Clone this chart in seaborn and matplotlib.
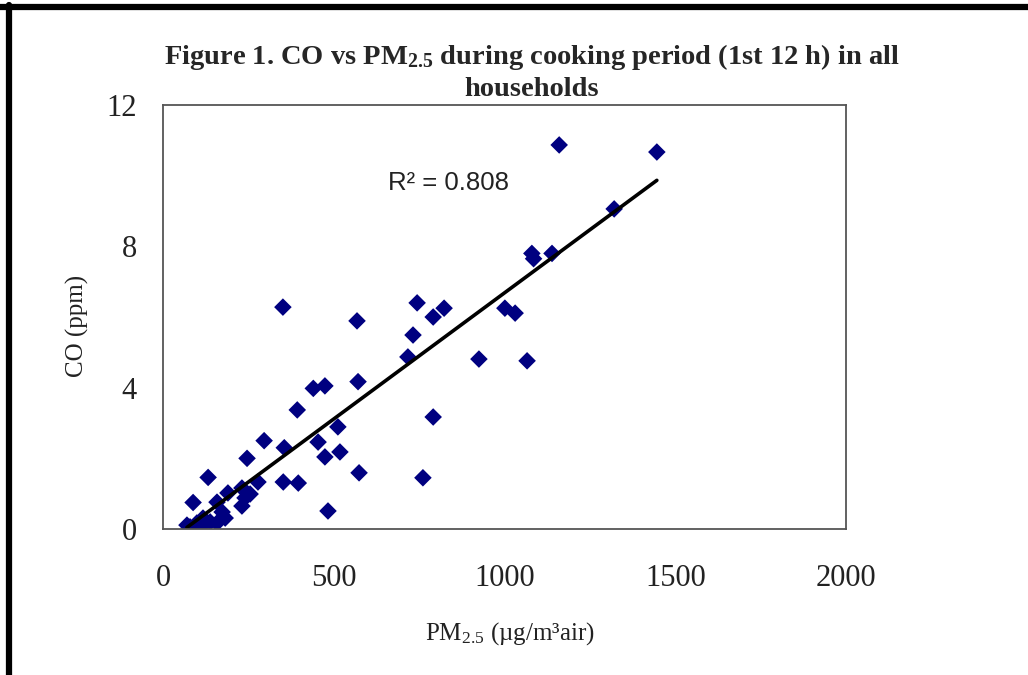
import matplotlib
matplotlib.use("Agg")
import matplotlib.pyplot as plt
import seaborn as sb
import pandas as pd
from matplotlib.lines import Line2D

# step 01: values
pm25 = [70, 79, 88, 99, 108, 117, 132, 138, 158, 158, 173, 182, 190,
        231, 231, 240, 246, 255, 278, 296, 355, 352, 396, 351, 393,
        440, 474, 454, 474, 512, 518, 483, 568, 571, 574, 761, 791,
        717, 732, 744, 791, 823, 925, 1001, 1031, 1066, 1080, 1085,
        1139, 1160, 1321, 1446]
co = [0.11, 0.06, 0.75, 0.17, 0.03, 0.31, 1.46, 0.20, 0.76, 0.17, 0.48, 0.31, 1.02,
      1.16, 0.65, 0.88, 2.00, 0.99, 1.33, 2.50, 2.30, 1.33, 1.30, 6.28, 3.37,
      3.98, 4.05, 2.46, 2.04, 2.89, 2.18, 0.51, 5.89, 4.17, 1.59, 1.45, 3.17,
      4.87, 5.49, 6.40, 6.00, 6.25, 4.81, 6.25, 6.11, 4.76, 7.80, 7.65,
      7.80, 10.87, 9.06, 10.67]
r2_text = "R² = 0.808"
x_ticks = [0, 500, 1000, 1500, 2000]
y_ticks = [0, 4, 8, 12]

df = pd.DataFrame({"PM25": pm25, "CO": co})

# step 02: style
sb.set_style("white")
plt.rcParams["font.family"] = ["Liberation Serif", "DejaVu Serif"]
plt.rcParams["mathtext.fontset"] = "custom"
plt.rcParams["mathtext.rm"] = "Liberation Serif"
plt.rcParams["mathtext.it"] = "Liberation Serif"
plt.rcParams["mathtext.bf"] = "Liberation Serif:bold"
plt.rcParams["mathtext.default"] = "rm"

fig = plt.figure(figsize=(10.28, 6.75), dpi=100)
ax = fig.add_axes([0.1586, 0.2163, 0.6644, 0.6281])

# step 03: scatter + linear trend line
sb.regplot(data=df, x="PM25", y="CO", ax=ax, ci=None, truncate=True,
           marker="D",
           scatter_kws={"s": 80, "color": "#000080", "edgecolor": "none", "alpha": 1},
           line_kws={"color": "black", "linewidth": 2.6})

ax.set_xlim(0, 2000)
ax.set_ylim(0, 12)
ax.set_xticks(x_ticks)
ax.set_yticks(y_ticks)
ax.tick_params(axis="both", direction="out", length=7, width=1.2,
               color="#555555", labelsize=22, labelcolor="#222222")
ax.tick_params(axis="x", pad=18)
ax.tick_params(axis="y", pad=12)
for side in ["left", "bottom", "top", "right"]:
    ax.spines[side].set_visible(True)
    ax.spines[side].set_color("#555555")
    ax.spines[side].set_linewidth(1.3)

ax.set_xlabel("")
ax.set_ylabel("")
fig.text(0.496, 0.062, "PM$_{2.5}$ (µg/m³air)", ha="center", va="center",
         fontsize=18, color="#222222")
fig.text(0.075, 0.517, "CO (ppm)", ha="center", va="center", rotation=90,
         fontsize=18, color="#222222")

ax.text(659, 9.79, r2_text, ha="left", va="center", fontsize=18.5,
        family=["Liberation Sans", "DejaVu Sans"], color="#222222")

fig.text(0.517, 0.915, "Figure 1. CO vs PM$_{\\mathbf{2.5}}$ during cooking period (1st 12 h) in all",
         ha="center", va="center", fontsize=20.5, fontweight="bold")
fig.text(0.517, 0.868, "households", ha="center", va="center",
         fontsize=20.5, fontweight="bold")

# step 04: black frame along top and left edges
fig.add_artist(Line2D([0.0, 1.0], [0.989, 0.989], transform=fig.transFigure,
                      color="black", linewidth=4.5))
fig.add_artist(Line2D([0.00875, 0.00875], [0.0, 0.992], transform=fig.transFigure,
                      color="black", linewidth=4.5))

fig.savefig("out.png", dpi=100, facecolor="white")
